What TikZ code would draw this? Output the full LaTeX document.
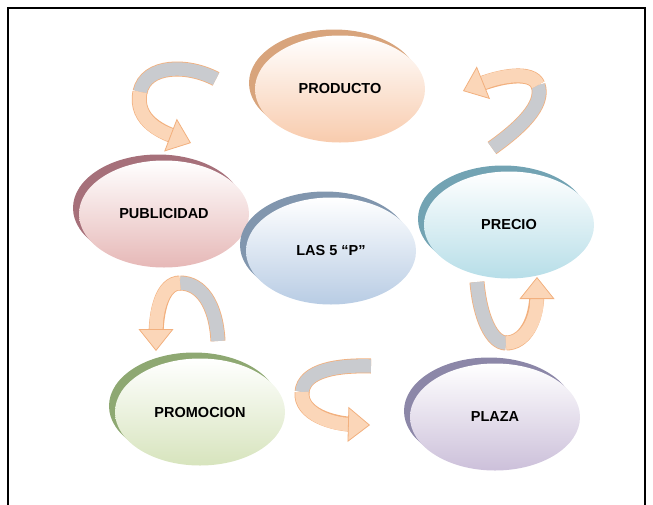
\documentclass[tikz,border=0pt]{standalone}
\usepackage{fontspec}
\setmainfont{Liberation Sans}
\usetikzlibrary{shapes.geometric,shadows,arrows.meta}

\definecolor{rimcol}{HTML}{F2B07E}
\definecolor{backcol}{HTML}{C9CBCF}
\definecolor{frontcol}{HTML}{FBD6B8}
\definecolor{prodrim}{HTML}{D8A47C}
\definecolor{prodfill}{HTML}{F8CBAD}
\definecolor{pubrim}{HTML}{A6707A}
\definecolor{pubfill}{HTML}{E6B8B7}
\definecolor{cincorim}{HTML}{8196AE}
\definecolor{cincofill}{HTML}{B8CCE4}
\definecolor{preciorim}{HTML}{72A3B3}
\definecolor{preciofill}{HTML}{B7DEE8}
\definecolor{promorim}{HTML}{8EA872}
\definecolor{promofill}{HTML}{D7E4BD}
\definecolor{plazarim}{HTML}{8C87A8}
\definecolor{plazafill}{HTML}{CCC0DA}

\tikzset{
  pe/.style 2 args={ellipse,minimum width=170pt,minimum height=107pt,inner sep=0pt,
    top color=white,bottom color=#2,
    general shadow={fill=#1,shadow xshift=-6pt,shadow yshift=6pt}},
  back/.style={preaction={draw=rimcol,line width=15pt},draw=backcol,line width=13.4pt},
  front/.style={preaction={draw=rimcol,line width=15pt,-,shorten >=14pt},
    draw=frontcol,line width=13.4pt,
    -{Triangle[width=35pt,length=22pt,line width=0.8pt,fill=frontcol,color=rimcol]}},
}

\begin{document}
\begin{tikzpicture}[x=1pt,y=-1pt]
\useasboundingbox (0,0) rectangle (653,504);
\clip (0,0) rectangle (653,504);
\draw[line width=2pt] (8,520) -- (8,8) -- (645,8) -- (645,520);

\begin{scope}[every node/.style={font=\fontsize{14.5}{17}\selectfont\bfseries}]
    \node[pe={prodrim}{prodfill}] (prod) at (340,89) {PRODUCTO};
    \node[pe={pubrim}{pubfill}] (pub) at (164,214) {PUBLICIDAD};
    \node[pe={cincorim}{cincofill}] (cinco) at (331,251) {LAS 5 “P”};
    \node[pe={preciorim}{preciofill}] (precio) at (509,225) {PRECIO};
    \node[pe={promorim}{promofill}] (promo) at (200,412) {PROMOCION};
    \node[pe={plazarim}{plazafill}] (plaza) at (495,417) {PLAZA};
\end{scope}

% producto -> publicidad
\coordinate (a1t) at (216,79);
\coordinate (a1m) at (140,92);
\coordinate (a1h) at (191,143);
\draw[back] (a1t) .. controls (188,64) and (146,64) .. (a1m);
\draw[front] (a1m) .. controls (134,122) and (165,133) .. (a1h);

% precio -> producto
\coordinate (a2t) at (492,148);
\coordinate (a2m) at (538,85);
\coordinate (a2h) at (463,91);
\draw[back] (a2t) .. controls (520,128) and (545,105) .. (a2m);
\draw[front] (a2m) .. controls (532,70) and (500,76) .. (a2h);

% plaza -> precio
\coordinate (a3t) at (477,282);
\coordinate (a3m) at (506,343);
\coordinate (a3h) at (537,277);
\draw[back] (a3t) .. controls (480,318) and (492,343) .. (a3m);
\draw[front] (a3m) .. controls (524,343) and (537,322) .. (a3h);

% publicidad -> promocion
\coordinate (a4t) at (218,341);
\coordinate (a4m) at (180,283);
\coordinate (a4h) at (156,351);
\draw[back] (a4t) .. controls (216,304) and (201,283) .. (a4m);
\draw[front] (a4m) .. controls (162,283) and (156,312) .. (a4h);

% promocion -> plaza
\coordinate (a5t) at (371,366);
\coordinate (a5m) at (302,392);
\coordinate (a5h) at (370,425);
\draw[back] (a5t) .. controls (338,365) and (304,370) .. (a5m);
\draw[front] (a5m) .. controls (300,414) and (332,424) .. (a5h);
\end{tikzpicture}
\end{document}
